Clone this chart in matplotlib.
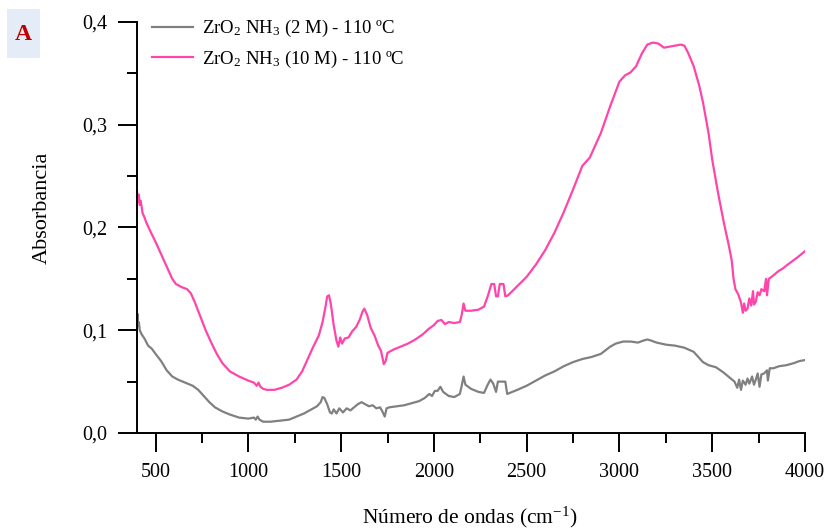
"""
Espectros FTIR de ZrO2 precipitado con NH3 (2 M y 10 M), secado a 110 ºC.
Guarda out.png.
"""
import matplotlib
matplotlib.use("Agg")
import matplotlib.pyplot as plt
from matplotlib.ticker import MultipleLocator, FuncFormatter
from matplotlib.patches import Rectangle

plt.rcParams.update({
    "font.family": ["Liberation Serif", "DejaVu Serif"],
    "mathtext.fontset": "custom",
    "mathtext.rm": "Liberation Serif",
    "mathtext.it": "Liberation Serif:italic",
    "font.size": 14,
})

GRIS = "#808080"
ROSA = "#ff44aa"

# ---------- datos: número de onda (cm-1) y absorbancia ----------
wn_10M = [400, 405, 410, 415, 420, 430, 440, 450, 470, 500, 530, 560, 590, 610, 640,
          670, 690, 710, 740, 770, 800, 830, 860, 900, 950, 1000, 1030, 1045, 1055,
          1065, 1080, 1100, 1140, 1180, 1220, 1260, 1290, 1320, 1350, 1380, 1400,
          1415, 1425, 1435, 1445, 1460, 1475, 1485, 1495, 1505, 1520, 1540, 1560,
          1580, 1600, 1615, 1625, 1640, 1660, 1680, 1700, 1715, 1730, 1740, 1750,
          1780, 1820, 1860, 1900, 1940, 1970, 2000, 2020, 2040, 2060, 2080, 2110,
          2140, 2150, 2160, 2170, 2200, 2240, 2270, 2290, 2310, 2325, 2335, 2345,
          2355, 2375, 2385, 2400, 2450, 2500, 2550, 2600, 2650, 2700, 2750, 2800,
          2840, 2870, 2900, 2950, 3000, 3030, 3060, 3090, 3120, 3150, 3180, 3210,
          3240, 3270, 3300, 3330, 3350, 3370, 3400, 3430, 3450, 3480, 3500, 3530,
          3560, 3590, 3605, 3615, 3625, 3640, 3655, 3665, 3672, 3680, 3690, 3700,
          3710, 3720, 3725, 3735, 3745, 3755, 3765, 3780, 3790, 3795, 3805, 3820,
          3840, 3860, 3880, 3900, 3930, 3960, 3980, 4000]
abs_10M = [0.235, 0.225, 0.232, 0.222, 0.226, 0.214, 0.210, 0.205, 0.197, 0.186,
           0.174, 0.162, 0.150, 0.145, 0.142, 0.140, 0.136, 0.128, 0.114, 0.100,
           0.088, 0.077, 0.068, 0.060, 0.055, 0.051, 0.049, 0.046, 0.049, 0.045,
           0.043, 0.042, 0.042, 0.044, 0.047, 0.052, 0.060, 0.072, 0.084, 0.095,
           0.108, 0.122, 0.133, 0.134, 0.125, 0.105, 0.090, 0.084, 0.093, 0.087,
           0.092, 0.093, 0.099, 0.103, 0.110, 0.118, 0.121, 0.115, 0.102, 0.095,
           0.085, 0.080, 0.067, 0.070, 0.078, 0.081, 0.084, 0.087, 0.091, 0.096,
           0.101, 0.105, 0.109, 0.110, 0.106, 0.108, 0.107, 0.108, 0.115, 0.126,
           0.119, 0.119, 0.120, 0.123, 0.133, 0.145, 0.145, 0.133, 0.133, 0.145,
           0.145, 0.133, 0.134, 0.143, 0.152, 0.164, 0.178, 0.195, 0.215, 0.237,
           0.260, 0.268, 0.280, 0.292, 0.318, 0.342, 0.348, 0.351, 0.357, 0.369,
           0.378, 0.380, 0.379, 0.375, 0.376, 0.377, 0.378, 0.377, 0.370, 0.357,
           0.338, 0.322, 0.292, 0.266, 0.235, 0.207, 0.182, 0.168, 0.150, 0.140,
           0.135, 0.127, 0.117, 0.126, 0.119, 0.121, 0.131, 0.124, 0.138, 0.125,
           0.128, 0.137, 0.134, 0.140, 0.138, 0.150, 0.134, 0.150, 0.152, 0.155,
           0.158, 0.160, 0.163, 0.167, 0.171, 0.174, 0.177]

wn_2M = [400, 403, 406, 410, 415, 425, 440, 460, 480, 500, 530, 560, 590, 620, 660,
         700, 730, 760, 790, 820, 860, 900, 950, 1000, 1030, 1040, 1050, 1060, 1080,
         1120, 1170, 1220, 1260, 1300, 1340, 1370, 1390, 1400, 1410, 1425, 1440,
         1450, 1460, 1475, 1490, 1510, 1530, 1550, 1570, 1590, 1610, 1630, 1650,
         1670, 1690, 1710, 1725, 1735, 1745, 1760, 1800, 1840, 1880, 1920, 1950,
         1975, 1990, 2005, 2020, 2035, 2050, 2080, 2110, 2140, 2150, 2160, 2170,
         2200, 2240, 2270, 2290, 2305, 2320, 2335, 2345, 2365, 2385, 2395, 2450,
         2500, 2550, 2600, 2650, 2700, 2750, 2800, 2850, 2900, 2950, 2980, 3020,
         3060, 3100, 3130, 3150, 3170, 3200, 3250, 3300, 3350, 3400, 3430, 3450,
         3480, 3520, 3560, 3600, 3620, 3635, 3645, 3655, 3665, 3680, 3690, 3700,
         3715, 3725, 3735, 3745, 3755, 3765, 3780, 3795, 3800, 3810, 3830, 3860,
         3900, 3940, 3970, 4000]
abs_2M = [0.108, 0.116, 0.104, 0.108, 0.100, 0.096, 0.092, 0.085, 0.082, 0.077,
          0.070, 0.061, 0.055, 0.052, 0.049, 0.046, 0.042, 0.036, 0.030, 0.025,
          0.021, 0.018, 0.015, 0.014, 0.015, 0.013, 0.016, 0.013, 0.011, 0.011,
          0.012, 0.013, 0.016, 0.019, 0.023, 0.026, 0.030, 0.035, 0.034, 0.028,
          0.020, 0.019, 0.023, 0.019, 0.024, 0.020, 0.024, 0.022, 0.025, 0.028,
          0.030, 0.028, 0.026, 0.027, 0.024, 0.025, 0.020, 0.016, 0.024, 0.025,
          0.026, 0.027, 0.029, 0.031, 0.034, 0.038, 0.036, 0.041, 0.041, 0.045,
          0.040, 0.036, 0.035, 0.038, 0.046, 0.055, 0.047, 0.043, 0.040, 0.039,
          0.047, 0.052, 0.048, 0.040, 0.050, 0.050, 0.050, 0.038, 0.042, 0.046,
          0.051, 0.056, 0.060, 0.065, 0.069, 0.072, 0.074, 0.077, 0.084, 0.087,
          0.089, 0.089, 0.088, 0.090, 0.091, 0.090, 0.088, 0.086, 0.085, 0.083,
          0.079, 0.073, 0.069, 0.066, 0.064, 0.059, 0.053, 0.050, 0.044, 0.052,
          0.042, 0.051, 0.047, 0.053, 0.048, 0.055, 0.047, 0.052, 0.058, 0.045,
          0.057, 0.058, 0.061, 0.051, 0.063, 0.063, 0.065, 0.066, 0.068, 0.070,
          0.071]

etiquetas = [r"ZrO$_2$ NH$_3$ (2 M) - 110 ºC", r"ZrO$_2$ NH$_3$ (10 M) - 110 ºC"]

# ---------- figura ----------
fig = plt.figure(figsize=(8.26, 5.28), dpi=100)
ax = fig.add_axes([137/826, 1 - 433/528, (805 - 137)/826, (433 - 22)/528])

ax.plot(wn_2M, abs_2M, color=GRIS, lw=1.6, label=etiquetas[0])
ax.plot(wn_10M, abs_10M, color=ROSA, lw=1.6, label=etiquetas[1])

ax.set_xlim(400, 4000)
ax.set_ylim(0, 0.4)
for s in ("top", "right"):
    ax.spines[s].set_visible(False)
for s in ("left", "bottom"):
    ax.spines[s].set_linewidth(1.4)

ax.xaxis.set_major_locator(MultipleLocator(500))
ax.xaxis.set_minor_locator(MultipleLocator(250))
ax.yaxis.set_major_locator(MultipleLocator(0.1))
ax.yaxis.set_minor_locator(MultipleLocator(0.05))
ax.yaxis.set_major_formatter(FuncFormatter(lambda v, p: f"{v:.1f}".replace(".", ",")))
ax.set_xticks([t for t in range(500, 4001, 500)])
ax.tick_params(which="major", direction="out", length=13.5, width=1.4, labelsize=14.5)
ax.tick_params(which="minor", direction="out", length=7, width=1.4)
ax.tick_params(axis="y", which="major", pad=8)
ax.tick_params(axis="x", which="major", pad=8)

fig.text(470/826, 1 - 517/528, r"Número de ondas (cm$^{-1}$)", ha="center", va="center",
         fontsize=15.5)
fig.text(42/826, 1 - 208/528, "Absorbancia", ha="center", va="center",
         rotation=90, fontsize=16)

ax.legend(loc="upper left", bbox_to_anchor=(152/826, 1 - 18/528),
          bbox_transform=fig.transFigure, frameon=False, fontsize=13.5,
          handlelength=2.2, handletextpad=0.45, labelspacing=0.5,
          borderpad=0, borderaxespad=0)

# recuadro con la letra del panel
fig.patches.append(Rectangle((7/826, 1 - 58/528), 33/826, 49/528,
                             transform=fig.transFigure, facecolor="#e4edf7",
                             edgecolor="none", zorder=0))
fig.text(23.5/826, 1 - 34/528, "A", ha="center", va="center", color="#c00000",
         fontsize=17, fontweight="bold")

fig.savefig("out.png", dpi=100)
